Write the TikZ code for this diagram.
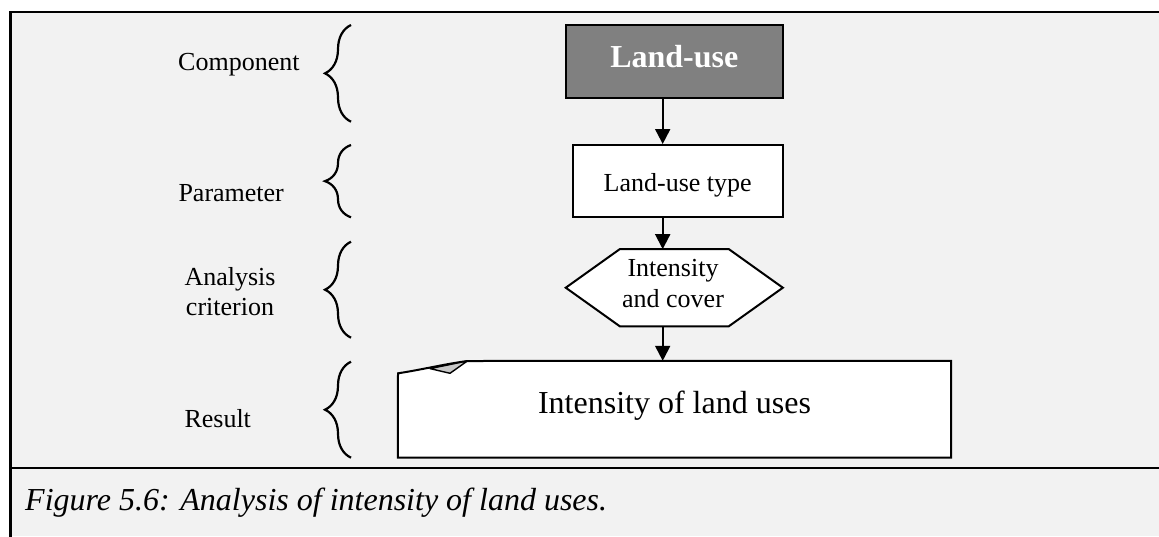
\documentclass[tikz,border=0pt]{standalone}
\usepackage{fontspec}
\setmainfont{Liberation Serif}
\usetikzlibrary{arrows.meta,decorations.pathreplacing}
\definecolor{panel}{HTML}{F2F2F2}
\definecolor{headfill}{HTML}{808080}
\definecolor{foldfill}{HTML}{C8C8C8}
\tikzset{
  txt/.style={font=\fontsize{26}{31}\selectfont, inner sep=0pt},
  bigtxt/.style={font=\fontsize{32}{36}\selectfont, inner sep=0pt},
  box/.style={draw, line width=2pt, inner sep=0pt, fill=white},
  ghost/.style={inner sep=0pt},
  arr/.style={line width=2pt, -{Triangle[length=15pt,width=15pt]}},
  brc/.style={decorate, decoration={brace, amplitude=26pt}, line width=2.2pt},
  framerule/.style={line width=2.4pt}
}
\begin{document}
\begin{tikzpicture}[x=1pt,y=-1pt]
\useasboundingbox (0,0) rectangle (1159,536);
% page and framed panel
\fill[white] (0,0) rectangle (1159,536);
\fill[panel] (10.5,12) rectangle (1159,536);
\draw[framerule] (10.5,540) -- (10.5,12) -- (1165,12);
\draw[line width=2.2pt] (10.5,467.7) -- (1165,467.7);

% component box
\node[box, fill=headfill, text=white, font=\bfseries\fontsize{32}{36}\selectfont,
      minimum width=216.7pt, minimum height=72.7pt, text height=11.5pt, text depth=0pt]
      (landuse) at (674.3,61.3) {Land-use};

% parameter box
\node[box, txt, minimum width=210pt, minimum height=72pt, text height=20pt, text depth=0pt]
      (lutype) at (677.7,181) {Land-use type};

% criterion hexagon
\node[ghost, minimum width=216.7pt, minimum height=76.7pt] (crit) at (674.3,287.7) {};
\draw[box] (crit.west) -- ([xshift=54pt]crit.north west) -- ([xshift=-54pt]crit.north east)
  -- (crit.east) -- ([xshift=-54pt]crit.south east) -- ([xshift=54pt]crit.south west) -- cycle;
\node[txt, align=center] (crittext) at (673,284) {Intensity\\and cover};

% result document with curled corner
\node[ghost, minimum width=553pt, minimum height=96.3pt] (result) at (674.5,409.15) {};
\draw[box] (result.south west) -- (result.south east) -- (result.north east) -- (467.3,361)
  .. controls (445,364) and (420,370) .. (398,373.3) -- cycle;
\filldraw[fill=foldfill, line width=1.4pt, line join=round] (467.3,361) -- (450,373.3) -- (430,368.6) -- cycle;
\node[bigtxt, text height=8pt, text depth=0pt] (restext) at (674.5,409.15) {Intensity of land uses};

% connectors
\coordinate (ax) at (662.7,0);
\draw[arr] (landuse.south -| ax) -- (lutype.north -| ax);
\draw[arr] (lutype.south -| ax) -- (crit.north -| ax);
\draw[arr] (crit.south -| ax) -- (result.north -| ax);

% level braces
\draw[brc] (351,121.7) -- (351,25);
\draw[brc] (351,217.3) -- (351,145);
\draw[brc] (351,337.7) -- (351,241.7);
\draw[brc] (351,457.7) -- (351,361.7);

% level labels
\node[txt, anchor=base west] (lcomp) at (178,70) {Component};
\node[txt, anchor=base west] (lpar) at (178.3,201.7) {Parameter};
\node[txt, align=center, font=\fontsize{26}{30}\selectfont] (lcrit) at (230,291.2) {Analysis\\criterion};
\node[txt, anchor=base west] (lres) at (184.3,427.3) {Result};

% caption
\node[bigtxt, font=\itshape\fontsize{32}{36}\selectfont, anchor=base west] (cap) at (25,510.7)
  {Figure 5.6: Analysis of intensity of land uses.};
\end{tikzpicture}
\end{document}
